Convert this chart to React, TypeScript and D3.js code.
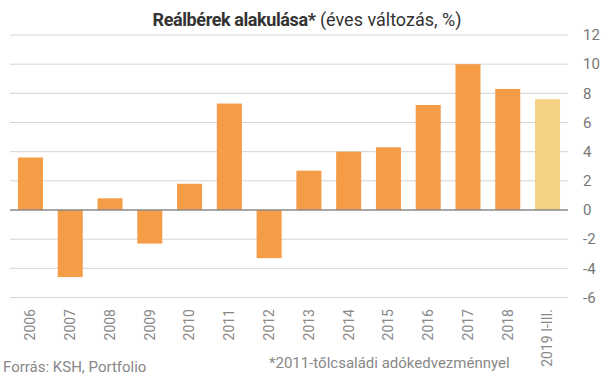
import React from "react";
import * as d3 from "d3";

const categories = ["2006","2007","2008","2009","2010","2011","2012","2013","2014","2015","2016","2017","2018","2019 I-III."];
const values = [3.6, -4.6, 0.8, -2.3, 1.8, 7.3, -3.3, 2.7, 4.0, 4.3, 7.2, 10.0, 8.3, 7.6];
const yTicks = [-6, -4, -2, 0, 2, 4, 6, 8, 10, 12];

const W = 605, H = 378;
const FONT = "Roboto, 'Noto Sans', sans-serif";

export default function App() {
  const x = d3.scaleBand<string>().domain(categories).range([10, 568]).paddingInner(0.371).paddingOuter(0.2);
  const y = d3.scaleLinear().domain([-6, 12]).range([297.5, 35]);
  return (
    <svg width={W} height={H} style={{ position: "absolute", left: 0, top: 0 }} fontFamily={FONT}>
      <text x={307} y={26} textAnchor="middle" fontSize={18} fill="#333">
        <tspan fontWeight="bold" letterSpacing={-0.4}>Reálbérek alakulása*</tspan>
        <tspan> (éves változás, %)</tspan>
      </text>
      {yTicks.filter(t => t !== 0).map(t => (
        <line key={"g" + t} x1={10} x2={568} y1={y(t)} y2={y(t)} stroke="#d4d4d4" strokeWidth={1} />
      ))}
      {yTicks.map(t => (
        <text key={"t" + t} x={583} y={y(t)} dy="0.35em" fontSize={15} fill="#777">{t}</text>
      ))}
      {values.map((v, i) => (
        <rect key={categories[i]} x={x(categories[i])} width={x.bandwidth()}
          y={Math.min(y(v), y(0))} height={Math.abs(y(v) - y(0))}
          fill={i === categories.length - 1 ? "#F5D185" : "#F59C47"} />
      ))}
      <line x1={10} x2={568} y1={y(0)} y2={y(0)} stroke="#8a8a8a" strokeWidth={1.5} />
      {categories.map(c => {
        const cx = (x(c) as number) + x.bandwidth() / 2;
        return (
          <text key={"x" + c} transform={`translate(${cx},309) rotate(-90)`} textAnchor="end" dy="0.35em" fontSize={14} fill="#888">{c}</text>
        );
      })}
      <text x={3} y={372} fontSize={15} fill="#888">Forrás: KSH, Portfolio</text>
      <text x={269} y={368} fontSize={15} fill="#888">*2011-tőlcsaládi adókedvezménnyel</text>
    </svg>
  );
}
